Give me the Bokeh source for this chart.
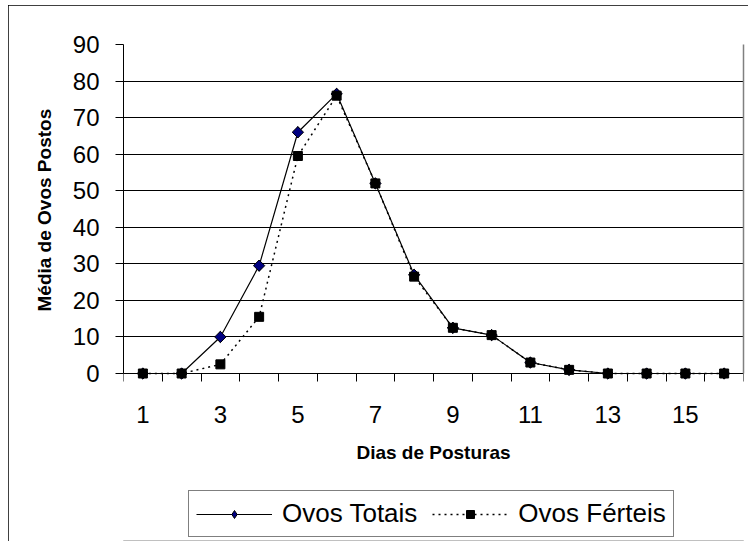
from bokeh.plotting import figure
from bokeh.models import (FixedTicker, Legend, LegendItem, Range1d, ColumnDataSource,
                          LinearAxis, Title)
from bokeh.embed import file_html
from bokeh.resources import INLINE
import math

days = list(range(1, 17))
totais = [0, 0, 10, 29.5, 66, 76.5, 52, 27, 12.5, 10.5, 3, 1, 0, 0, 0, 0]
ferteis = [0, 0, 2.5, 15.5, 59.5, 76, 52, 26.5, 12.5, 10.5, 3, 1, 0, 0, 0, 0]
x_labels = [1, 3, 5, 7, 9, 11, 13, 15]
y_ticks = [0, 10, 20, 30, 40, 50, 60, 70, 80, 90]

FONT = "Liberation Sans"

# layout (pixels): plot area 0..90 spans 329 px; frame extends below to host legend
FRAME_TOP, FRAME_ZERO, FRAME_BOTTOM = 39, 368, 535
Y_MAX = y_ticks[-1]
px_per_unit = (FRAME_ZERO - FRAME_TOP) / Y_MAX
y_start = -(FRAME_BOTTOM - FRAME_ZERO) / px_per_unit

src = ColumnDataSource(dict(x=days, tot=totais, fer=ferteis))

p = figure(width=740, height=536, output_backend="svg", toolbar_location=None,
           x_range=Range1d(0.5, len(days) + 0.5), y_range=Range1d(y_start, Y_MAX),
           min_border_left=115, min_border_top=FRAME_TOP, min_border_right=5,
           min_border_bottom=536 - FRAME_BOTTOM)
p.styles = {"outline": "1px solid black", "outline-offset": "-1px",
            "margin-left": "8px", "margin-top": "5px"}
p.outline_line_color = None
p.background_fill_color = "white"
p.border_fill_color = "white"

# grids
p.xgrid.visible = False
p.ygrid.grid_line_color = "#000000"
p.ygrid.grid_line_width = 1
p.ygrid.ticker = FixedTicker(ticks=y_ticks)

# y axis
p.yaxis.bounds = (0, Y_MAX)
p.yaxis.ticker = FixedTicker(ticks=y_ticks, minor_ticks=[])
p.yaxis.major_tick_out = 8
p.yaxis.major_tick_in = 0
p.yaxis.major_tick_line_color = "black"
p.yaxis.axis_line_color = "black"
p.yaxis.major_label_text_font = FONT
p.yaxis.major_label_text_font_size = "24px"
p.yaxis.major_label_text_color = "black"
p.yaxis.major_label_standoff = 16

# y axis title, centred on the 0..90 plot area
ytitle = Title(text="Média de Ovos Postos", align="left", offset=229,
               text_font=FONT, text_font_size="19px", text_font_style="bold",
               text_color="black", standoff=30)
p.add_layout(ytitle, "left")

# right border of the plot area
right = LinearAxis(bounds=(0, Y_MAX), ticker=FixedTicker(ticks=[], minor_ticks=[]),
                   axis_line_color="#808080", axis_line_width=1.5,
                   major_label_text_font_size="0px", major_tick_line_color=None,
                   minor_tick_line_color=None)
p.add_layout(right, "right")

# x axis: labels at odd category centres, tick marks at category boundaries
bounds = [d - 0.5 for d in days] + [days[-1] + 0.5]
p.xaxis.fixed_location = 0
p.xaxis.ticker = FixedTicker(ticks=x_labels, minor_ticks=bounds)
p.xaxis.major_tick_out = 0
p.xaxis.major_tick_in = 0
p.xaxis.minor_tick_out = 8
p.xaxis.minor_tick_in = 0
p.xaxis.minor_tick_line_color = "black"
p.xaxis.axis_line_color = "black"
p.xaxis.major_label_text_font = FONT
p.xaxis.major_label_text_font_size = "24px"
p.xaxis.major_label_text_color = "black"
p.xaxis.major_label_standoff = 24
p.xaxis.axis_label = "Dias de Posturas"
p.xaxis.axis_label_text_font = FONT
p.xaxis.axis_label_text_font_size = "19px"
p.xaxis.axis_label_text_font_style = "bold"
p.xaxis.axis_label_text_color = "black"
p.xaxis.axis_label_standoff = 16

# series
l1 = p.line("x", "tot", source=src, line_color="black", line_width=1.2)
l2 = p.line("x", "fer", source=src, line_color="black", line_width=1.5, line_dash="2 4")
# legend keys (drawn underneath the plotted markers; legend glyphs ignore angle)
k1 = p.scatter("x", "tot", source=src, marker="diamond", size=11,
               fill_color="#000080", line_color="black", line_width=1)
k2 = p.scatter("x", "fer", source=src, marker="square", size=7,
               fill_color="black", line_color="black")
m1 = p.scatter("x", "tot", source=src, marker="square", angle=math.pi / 4, size=8,
               fill_color="#000080", line_color="black", line_width=1)
m2 = p.scatter("x", "fer", source=src, marker="square", size=9,
               fill_color="black", line_color="black")

legend = Legend(items=[LegendItem(label="Ovos Totais", renderers=[l1, k1]),
                       LegendItem(label="Ovos Férteis", renderers=[l2, k2])],
                orientation="horizontal", location=(65, 3))
legend.label_text_font = FONT
legend.label_text_font_size = "26px"
legend.label_text_color = "black"
legend.glyph_width = 76
legend.label_standoff = 10
legend.spacing = 15
legend.padding = 7
legend.margin = 0
legend.border_line_color = "black"
legend.border_line_width = 1
legend.background_fill_color = "white"
legend.background_fill_alpha = 1
p.add_layout(legend, "center")

open("out.html", "w").write(file_html(p, INLINE))
